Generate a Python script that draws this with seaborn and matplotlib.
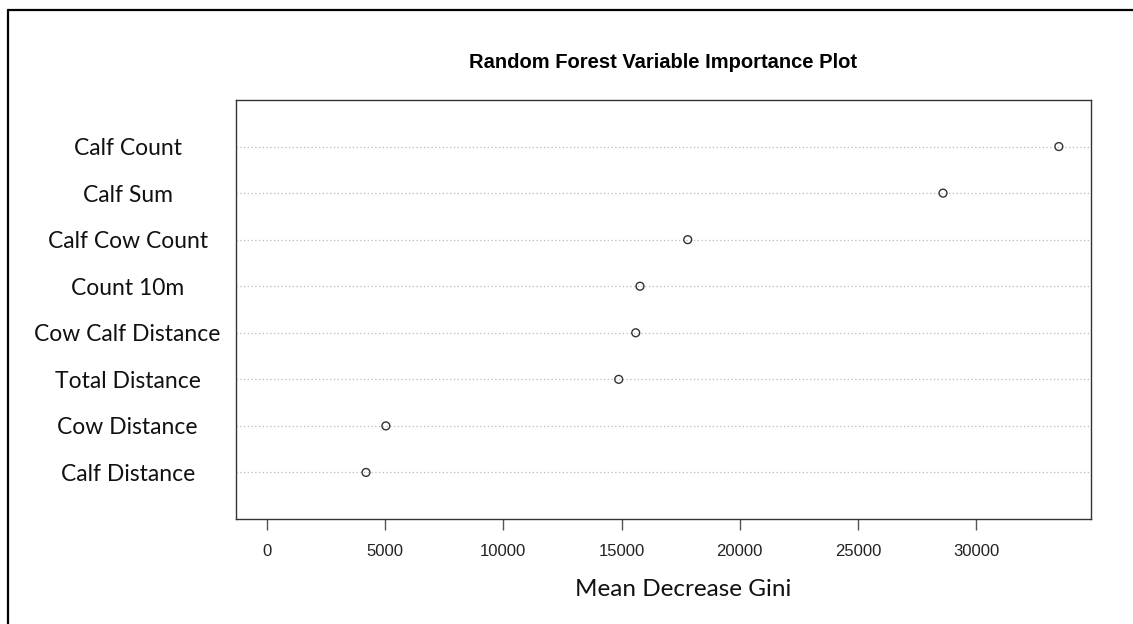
import seaborn as sns
import matplotlib.pyplot as plt
from matplotlib.lines import Line2D

# variable importance values
variables = ["Calf Count", "Calf Sum", "Calf Cow Count", "Count 10m",
             "Cow Calf Distance", "Total Distance", "Cow Distance", "Calf Distance"]
gini = [33500, 28600, 17800, 15780, 15600, 14880, 5030, 4190]
x_ticks = [0, 5000, 10000, 15000, 20000, 25000, 30000]

sns.set_style("white")
plt.rcParams['font.family'] = ['Liberation Sans', 'DejaVu Sans']

fig = plt.figure(figsize=(11.33, 6.24), dpi=100)
W, H = 1133, 624
ax = fig.add_axes([236 / W, 1 - 519 / H, (1091 - 236) / W, (519 - 100) / H])

sns.scatterplot(x=gini, y=variables, ax=ax, marker="o", s=32,
                facecolor="none", edgecolor="#333333", linewidth=1, zorder=3)

ax.set_ylim(len(variables), -1)
ax.set_xlim(-1310, 34860)
ax.set_xticks(x_ticks)
ax.set_xticklabels([str(t) for t in x_ticks], fontsize=12, color="#222222")
ax.tick_params(axis="x", direction="out", length=8, width=1, color="#555555",
               pad=10, bottom=True)

ax.set_yticks(range(len(variables)))
ax.set_yticklabels(variables, fontsize=16.5, family="Lato", color="#111111",
                   ha="center", va="center_baseline")
ax.tick_params(axis="y", length=0, pad=78)

ax.grid(axis="y", linestyle=(0, (1, 2)), color="#bbbbbb", linewidth=0.9)
ax.grid(axis="x", visible=False)
for sp in ax.spines.values():
    sp.set_color("#333333")
    sp.set_linewidth(1)

ax.set_xlabel("Mean Decrease Gini", fontsize=17.5, family="Lato", color="#111111")
ax.xaxis.set_label_coords((683 - 236) / 855, -(590 - 519) / 419, transform=ax.transAxes)
ax.xaxis.label.set_va("center")
ax.set_ylabel("")
fig.text(663 / W, 1 - 62 / H, "Random Forest Variable Importance Plot",
         ha="center", va="center", fontsize=14.5, fontweight="bold", color="black")

# outer frame around the slide
fig.add_artist(Line2D([8 / W, 1], [1 - 10 / H, 1 - 10 / H], transform=fig.transFigure,
                      color="black", linewidth=1.6))
fig.add_artist(Line2D([8 / W, 8 / W], [0, 1 - 10 / H], transform=fig.transFigure,
                      color="black", linewidth=1.6))

fig.savefig("out.png", dpi=100)
